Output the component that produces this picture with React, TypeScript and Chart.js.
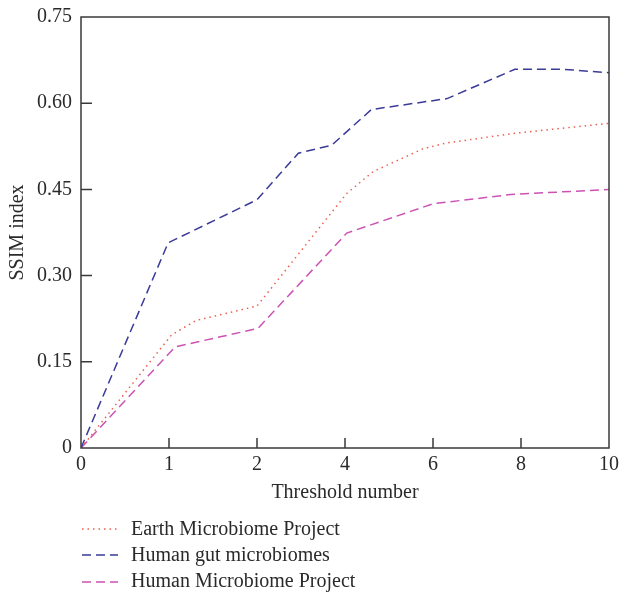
import React, { useEffect, useRef } from "react";
import { Chart, registerables } from "chart.js";

Chart.register(...registerables);

const xTickLabels = ["0", "1", "2", "4", "6", "8", "10"];
const yTicks = [0, 0.15, 0.3, 0.45, 0.6, 0.75];

const earthX = [0, 1.03, 1.31, 2.0, 3.02, 3.32, 3.89, 4.16, 4.95, 6];
const earthY = [0, 0.197, 0.222, 0.247, 0.443, 0.481, 0.521, 0.531, 0.548, 0.565];

const gutX = [0, 0.99, 2.0, 2.47, 2.85, 3.3, 4.16, 4.93, 5.48, 6];
const gutY = [0, 0.357, 0.432, 0.513, 0.527, 0.589, 0.608, 0.659, 0.659, 0.653];

const hmpX = [0, 1.07, 2.01, 3.02, 4.0, 4.88, 6];
const hmpY = [0, 0.176, 0.208, 0.374, 0.425, 0.441, 0.45];

const seriesNames = ["Earth Microbiome Project", "Human gut microbiomes", "Human Microbiome Project"];
const seriesColors = ["#EE5E4C", "#3A3A98", "#CC52B4"];
const seriesDash = [[1.5, 4], [9, 5], [9, 5]];

const FONT = "'Liberation Serif', 'Times New Roman', serif";

function pts(xs: number[], ys: number[]) {
  return xs.map((x, i) => ({ x, y: ys[i] }));
}

function zeroPad(s: any) {
  s.paddingTop = 0;
  s.paddingBottom = 0;
  s.paddingLeft = 0;
  s.paddingRight = 0;
}

export default function App() {
  const ref = useRef<HTMLCanvasElement | null>(null);

  useEffect(() => {
    if (!ref.current) return;

    const framePlugin = {
      id: "frameTicks",
      afterDraw(chart: any) {
        const { ctx, chartArea } = chart;
        const { left, right, top, bottom } = chartArea;
        const xs = chart.scales.x;
        const ys = chart.scales.y;
        ctx.save();
        ctx.strokeStyle = "#3a3a3a";
        ctx.lineWidth = 1.5;
        ctx.setLineDash([]);
        ctx.strokeRect(left, top, right - left, bottom - top);
        ctx.beginPath();
        for (let i = 1; i < xTickLabels.length - 1; i++) {
          const px = xs.getPixelForValue(i);
          ctx.moveTo(px, bottom);
          ctx.lineTo(px, bottom - 10);
        }
        for (let i = 1; i < yTicks.length - 1; i++) {
          const py = ys.getPixelForValue(yTicks[i]);
          ctx.moveTo(left, py);
          ctx.lineTo(left + 11, py);
        }
        ctx.stroke();

        // legend
        const baseY = [535, 561, 587];
        const lineY = [529, 555, 582];
        ctx.font = `20px ${FONT}`;
        ctx.textBaseline = "alphabetic";
        ctx.textAlign = "left";
        for (let i = 0; i < seriesNames.length; i++) {
          ctx.strokeStyle = seriesColors[i];
          ctx.lineWidth = 1.5;
          ctx.setLineDash(seriesDash[i]);
          ctx.beginPath();
          ctx.moveTo(82, lineY[i]);
          ctx.lineTo(118, lineY[i]);
          ctx.stroke();
          ctx.fillStyle = "#2a2a2a";
          ctx.fillText(seriesNames[i], 131, baseY[i]);
        }
        ctx.restore();
      },
    };

    const chart = new Chart(ref.current, {
      type: "line",
      data: {
        datasets: [
          { label: seriesNames[0], data: pts(earthX, earthY) },
          { label: seriesNames[1], data: pts(gutX, gutY) },
          { label: seriesNames[2], data: pts(hmpX, hmpY) },
        ].map((d, i) => ({
          ...d,
          borderColor: seriesColors[i],
          borderWidth: 1.5,
          borderDash: seriesDash[i],
          pointRadius: 0,
          fill: false,
          tension: 0,
        })),
      },
      options: {
        animation: false,
        responsive: false,
        devicePixelRatio: 1,
        layout: { padding: { left: 0, right: 12, top: 17, bottom: 84 } },
        plugins: { legend: { display: false }, tooltip: { enabled: false } },
        scales: {
          x: {
            type: "linear",
            min: 0,
            max: 6,
            afterFit: (s: any) => {
              s.height = 60;
              zeroPad(s);
            },
            grid: { display: false, drawTicks: false },
            border: { display: false },
            ticks: {
              stepSize: 1,
              padding: 5,
              autoSkip: false,
              maxRotation: 0,
              color: "#2a2a2a",
              font: { family: FONT, size: 20 },
              callback: (v: any) => xTickLabels[Number(v)] ?? "",
            },
            title: {
              display: true,
              text: "Threshold number",
              color: "#2a2a2a",
              font: { family: FONT, size: 20 },
              padding: { top: 0, bottom: 3 },
            },
          },
          y: {
            type: "linear",
            min: 0,
            max: 0.75,
            afterFit: (s: any) => {
              s.width = 81;
              zeroPad(s);
            },
            afterBuildTicks: (s: any) => {
              s.ticks = yTicks.map((v) => ({ value: v }));
            },
            grid: { display: false, drawTicks: false },
            border: { display: false },
            ticks: {
              padding: 9,
              color: "#2a2a2a",
              font: { family: FONT, size: 20 },
              callback: (v: any) => (Number(v) === 0 ? "0" : Number(v).toFixed(2)),
            },
            title: {
              display: true,
              text: "SSIM index",
              color: "#2a2a2a",
              font: { family: FONT, size: 20 },
              padding: { top: 6, bottom: 0 },
            },
          },
        },
      },
      plugins: [framePlugin],
    });

    return () => chart.destroy();
  }, []);

  return (
    <div style={{ position: "fixed", left: 0, top: 0, width: 621, height: 592, background: "#fff" }}>
      <canvas ref={ref} width={621} height={592} style={{ display: "block" }} />
    </div>
  );
}
